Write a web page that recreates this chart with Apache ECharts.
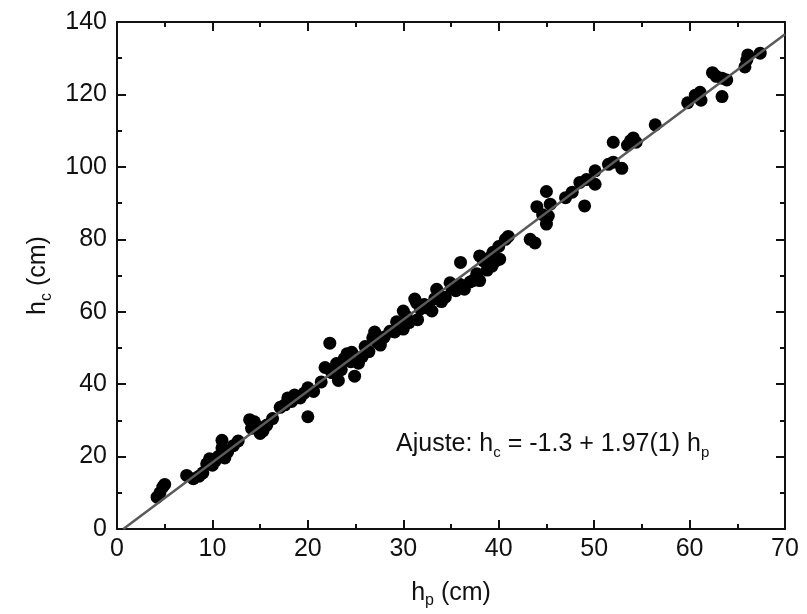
<!DOCTYPE html>
<html>
<head>
<meta charset="utf-8">
<style>
  html, body { margin: 0; padding: 0; background: #fff; }
  #chart { width: 807px; height: 614px; }
</style>
<script src="https://cdn.jsdelivr.net/npm/echarts@6/dist/echarts.min.js"></script>
</head>
<body>
<div id="chart"></div>
<script>
// measured pairs, hp (cm) vs hc (cm)
const hp = [
  4.2, 4.5, 4.8, 5.0, 7.3, 8.0, 8.6, 9.0, 9.4, 9.7, 10.0, 10.3, 10.6, 11.0, 11.0, 11.3, 11.6, 12.2, 12.7,
  13.9, 14.1, 14.4, 14.7, 15.0, 15.3, 15.7, 16.3, 17.1, 17.6, 17.9, 18.3, 18.6, 19.2, 19.6, 20.0, 20.0,
  20.6, 21.4, 21.8, 22.3, 22.5, 23.0, 23.2, 23.5, 23.8, 24.1, 24.5, 24.6, 24.9, 25.3, 25.7, 26.0, 26.4,
  26.8, 27.0, 27.3, 27.6, 28.0, 28.6, 29.1, 29.3, 29.6, 30.0, 30.0, 30.3, 30.6, 31.2, 31.4, 31.5, 31.8,
  32.2, 32.6, 33.0, 33.3, 33.5, 33.8, 34.0, 34.4, 34.9, 35.1, 35.5, 35.9, 36.0, 36.4, 37.0, 37.3, 37.7,
  38.0, 38.0, 38.4, 38.8, 39.0, 39.3, 39.4, 39.7, 40.1, 40.0, 40.7, 41.0, 43.3, 43.8, 44.0, 44.6, 45.0,
  45.0, 45.2, 45.4, 47.0, 47.7, 48.5, 49.0, 49.2, 50.1, 50.1, 51.5, 52.0, 52.0, 52.9, 53.5, 53.8, 54.1,
  54.4, 56.4, 59.8, 60.6, 61.1, 61.2, 62.4, 62.8, 63.4, 63.9, 63.4, 65.8, 66.0, 66.1, 67.4
];
const hc = [
  8.8, 10.0, 11.6, 12.3, 14.8, 13.9, 14.6, 15.5, 18.0, 19.4, 17.6, 18.8, 20.0, 22.4, 24.5, 19.6, 21.3, 23.0, 24.3,
  30.2, 27.8, 29.6, 28.4, 26.4, 27.1, 28.7, 30.5, 33.6, 34.3, 36.2, 35.2, 37.0, 36.2, 37.5, 31.0, 39.0,
  38.0, 40.6, 44.6, 51.3, 43.2, 45.7, 41.0, 44.0, 47.0, 48.4, 46.2, 48.8, 42.2, 45.8, 47.6, 50.4, 49.0,
  52.8, 54.4, 51.5, 50.8, 53.0, 54.6, 54.4, 57.2, 55.8, 55.2, 60.2, 58.8, 57.0, 63.5, 62.4, 57.8, 60.8,
  62.0, 61.0, 60.2, 63.6, 66.2, 64.3, 62.8, 64.0, 68.0, 66.4, 65.8, 67.6, 73.6, 66.2, 68.2, 68.6, 70.5,
  75.4, 68.6, 74.0, 71.5, 74.8, 72.6, 76.4, 74.0, 74.5, 78.0, 80.0, 80.8, 80.0, 79.0, 89.0, 86.8, 93.2,
  84.2, 86.4, 89.7, 91.5, 93.0, 95.7, 89.2, 96.5, 98.9, 95.2, 100.7, 101.3, 106.8, 99.6, 106.0, 107.2, 108.0,
  106.8, 111.6, 117.7, 119.8, 120.6, 118.4, 126.0, 125.0, 124.5, 124.0, 119.4, 127.6, 129.5, 130.9, 131.4
];

// linear fit reported on the chart
const fitIntercept = -1.3;
const fitSlope = 1.97;

const xMin = 0, xMax = 70, xStep = 10;
const yMin = 0, yMax = 140, yStep = 20;

const chart = echarts.init(document.getElementById('chart'));

const points = hp.map((x, i) => [x, hc[i]]);
const fitStart = -fitIntercept / fitSlope;
const fitLine = [[fitStart, 0], [xMax, fitIntercept + fitSlope * xMax]];

const font = 'Liberation Sans, Arial, sans-serif';
const subRich = {
  b: { fontSize: 25, fontFamily: font, color: '#111' },
  s: { fontSize: 16, fontFamily: font, color: '#111', padding: [16, 0, 0, 0] }
};

const axisCommon = {
  type: 'value',
  axisLine: { show: true, onZero: false, lineStyle: { color: '#111', width: 2 } },
  axisTick: { show: true, inside: true, length: 9, lineStyle: { color: '#111', width: 2 } },
  minorTick: { show: true, splitNumber: 2, length: 5, lineStyle: { color: '#111', width: 2 } },
  splitLine: { show: false }
};

chart.setOption({
  animation: false,
  grid: { left: 117, right: 22, top: 22, bottom: 83 },
  xAxis: [
    Object.assign({}, axisCommon, {
      position: 'bottom', min: xMin, max: xMax, interval: xStep,
      axisLabel: { color: '#111', fontSize: 25, fontFamily: font, margin: 8 },
      name: '{b|h}{s|p}{b| (cm)}',
      nameLocation: 'middle', nameGap: 48,
      nameTextStyle: { rich: subRich }
    }),
    Object.assign({}, axisCommon, {
      position: 'top', min: xMin, max: xMax, interval: xStep,
      axisLabel: { show: false }
    })
  ],
  yAxis: [
    Object.assign({}, axisCommon, {
      position: 'left', min: yMin, max: yMax, interval: yStep,
      axisLabel: { color: '#111', fontSize: 25, fontFamily: font, margin: 10 },
      name: '{b|h}{s|c}{b| (cm)}',
      nameLocation: 'middle', nameGap: 56, nameRotate: 90,
      nameTextStyle: { rich: subRich }
    }),
    Object.assign({}, axisCommon, {
      position: 'right', min: yMin, max: yMax, interval: yStep,
      axisLabel: { show: false }
    })
  ],
  series: [
    {
      type: 'scatter',
      data: points,
      symbol: 'circle',
      symbolSize: 13,
      itemStyle: { color: '#000', opacity: 1 },
      z: 2
    },
    {
      type: 'line',
      data: fitLine,
      symbol: 'none',
      lineStyle: { color: '#5a5a5a', width: 2.5 },
      z: 3
    }
  ],
  graphic: [{
    type: 'text',
    left: 396,
    top: 432,
    style: {
      text: '{b|Ajuste: h}{s|c}{b| = -1.3 + 1.97(1) h}{s|p}',
      rich: {
        b: { fontSize: 25, fontFamily: font, fill: '#111' },
        s: { fontSize: 15, fontFamily: font, fill: '#111', padding: [16, 0, 0, 0] }
      }
    }
  }]
});
</script>
</body>
</html>
